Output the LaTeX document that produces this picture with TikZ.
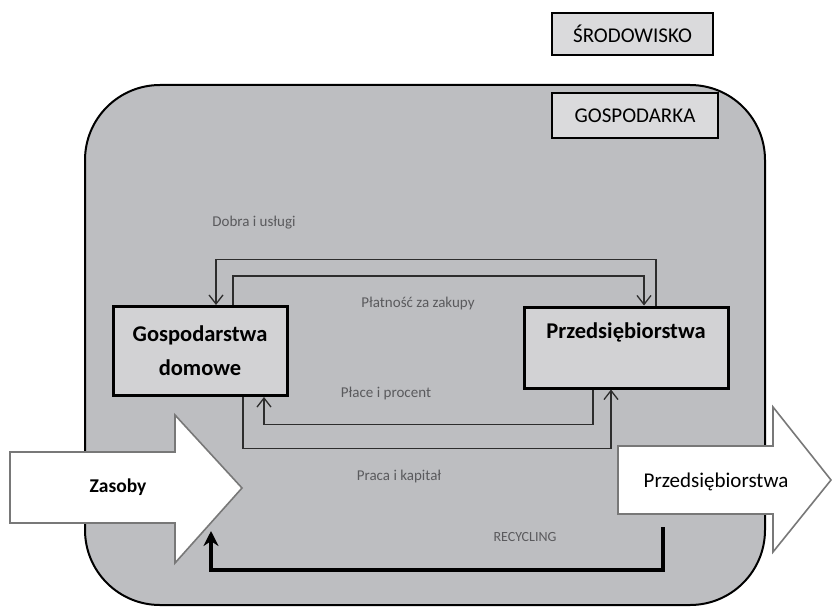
\documentclass[tikz,border=0pt]{standalone}
\usepackage{fontspec}
\setmainfont{Carlito}
\usetikzlibrary{arrows.meta}
\definecolor{econfill}{RGB}{189,190,193}
\definecolor{boxfill}{RGB}{210,210,212}
\definecolor{tagfill}{RGB}{218,218,220}
\definecolor{flowcol}{RGB}{45,45,45}
\definecolor{labcol}{RGB}{90,90,93}
\definecolor{bigedge}{RGB}{120,120,120}
\tikzset{
  tagbox/.style={draw=black, line width=2.2pt, fill=tagfill, inner sep=0pt, font=\fontsize{21}{24}\selectfont},
  mainbox/.style={draw=black, line width=3pt, fill=boxfill, inner sep=0pt, align=center, font=\bfseries\fontsize{22.5}{34}\selectfont},
  flow/.style={draw=flowcol, line width=1.5pt, -{Straight Barb[length=9pt,width=14pt,line width=1.3pt]}},
  flowlab/.style={text=labcol, font=\fontsize{15}{17}\selectfont},
  bigarrow/.style={draw=bigedge, line width=1.6pt, fill=white, line join=miter},
  recyc/.style={draw=black, line width=4pt, -{Stealth[length=15pt,width=15pt]}}
}
\begin{document}
\begin{tikzpicture}[x=1pt,y=-1pt]
\useasboundingbox (0,0) rectangle (832,607);
\fill[white] (0,0) rectangle (832,607);
% environment tag
\node[tagbox, minimum width=161pt, minimum height=42pt] (env) at (632.5,34) {ŚRODOWISKO};
% economy
\node[draw=black, line width=2pt, fill=econfill, rounded corners=75pt, minimum width=680pt, minimum height=520pt] (econ) at (425,345) {};
\node[tagbox, minimum width=166pt, minimum height=45pt] (econtag) at (635,115.5) {GOSPODARKA};
% agents
\node[mainbox, minimum width=174pt, minimum height=89pt] (hh) at (200,351) {Gospodarstwa\\domowe};
\node[mainbox, minimum width=204pt, minimum height=81pt] (firms) at (626,347.5) {Przedsiębiorstwa\\\mbox{}};
% flows
\draw[flow] ([xshift=30]firms.north) -- ++(0,-46) -| ([xshift=16]hh.north);
\draw[flow] ([xshift=33]hh.north) -- ++(0,-29) -| ([xshift=18]firms.north);
\draw[flow] ([xshift=-33]firms.south) -- ++(0,35) -| ([xshift=64]hh.south);
\draw[flow] ([xshift=43]hh.south) -- ++(0,51.5) -| ([xshift=-15]firms.south);
\node[flowlab] (l1) at (254,223) {Dobra i usługi};
\node[flowlab] (l2) at (418,303) {Płatność za zakupy};
\node[flowlab] (l3) at (386,393) {Płace i procent};
\node[flowlab] (l4) at (399,476) {Praca i kapitał};
% big arrows
\draw[bigarrow] (10,452) -- (175,452) -- (175,415) -- (242,488) -- (175,563) -- (175,523) -- (10,523) -- cycle;
\node[font=\bfseries\fontsize{19.5}{22}\selectfont] (zas) at (118,487) {Zasoby};
\draw[bigarrow] (618,446) -- (773,446) -- (773,407) -- (831,480) -- (773,552) -- (773,514) -- (618,514) -- cycle;
\node[font=\fontsize{21}{24}\selectfont] (out) at (716,482) {Przedsiębiorstwa};
% recycling
\coordinate (rs) at (663,527);
\coordinate (re) at (211,531);
\draw[recyc] (rs) -- ++(0,43) -| (re);
\node[flowlab, font=\fontsize{14}{16}\selectfont] (rl) at (525,537) {RECYCLING};
\end{tikzpicture}
\end{document}
